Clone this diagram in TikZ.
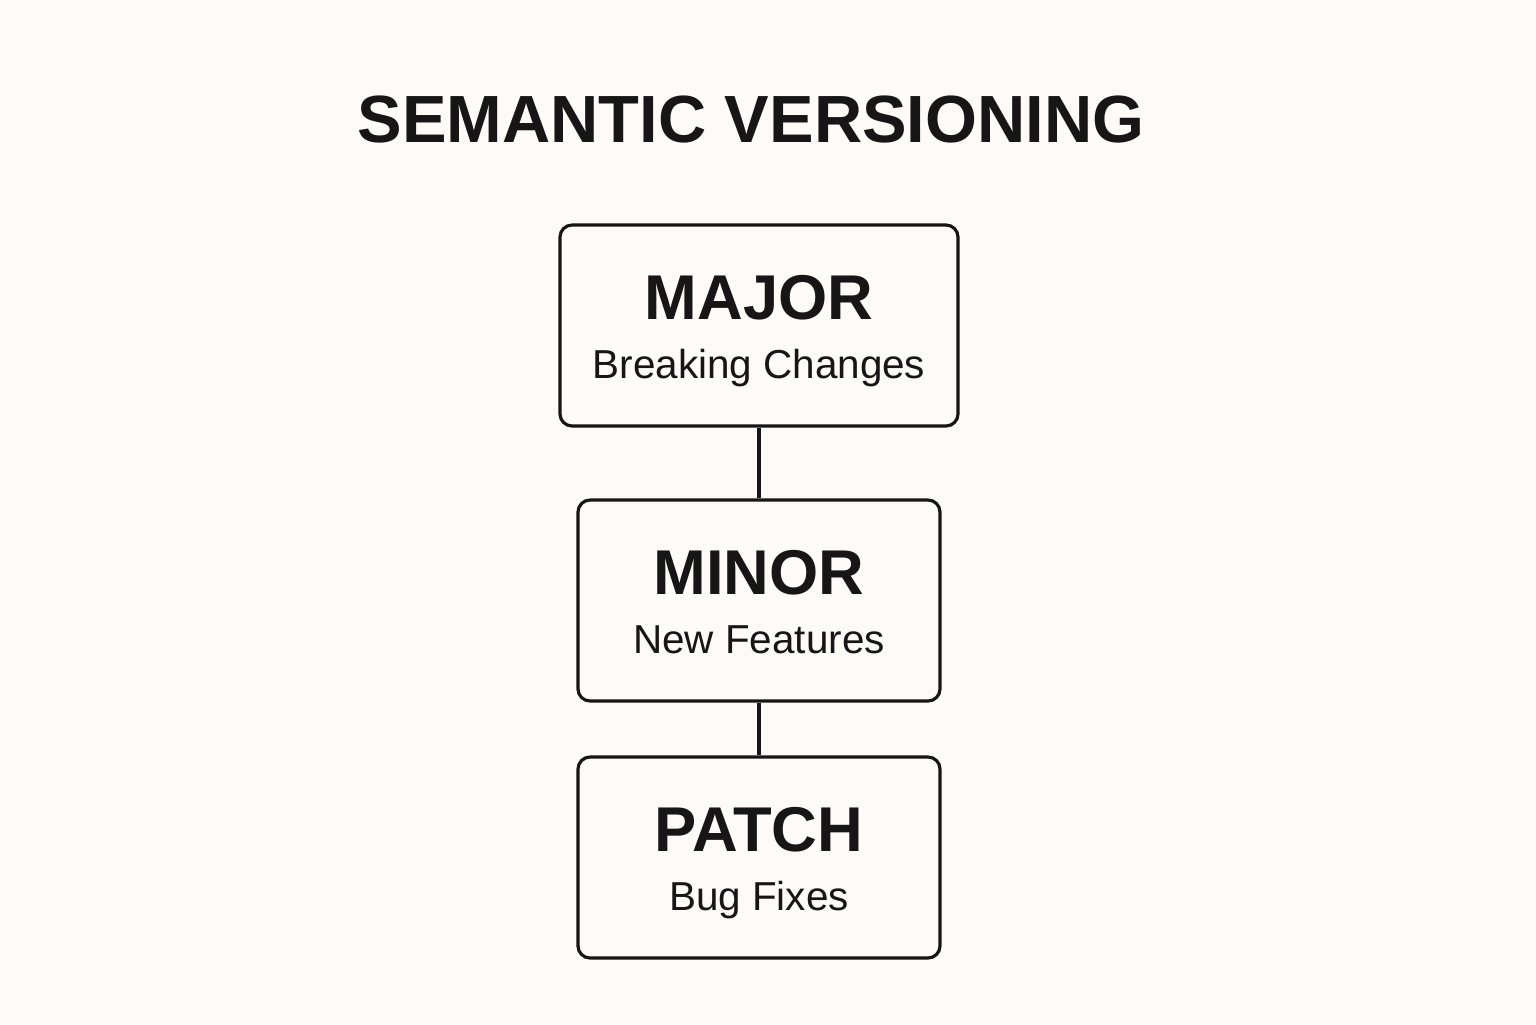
\documentclass[tikz,border=0pt]{standalone}
\usepackage{fontspec}
\setmainfont{Liberation Sans}
\usetikzlibrary{positioning}
\definecolor{paper}{HTML}{FCFBF8}
\definecolor{ink}{HTML}{161616}
\tikzset{
	verbox/.style={draw=ink, line width=0.9pt, rounded corners=0.12cm, minimum height=2.01cm, inner sep=0pt},
	vername/.style={anchor=base, text=ink, font=\fontsize{18}{20}\selectfont\bfseries, inner sep=0pt},
	verdesc/.style={anchor=base, text=ink, font=\fontsize{11.5}{13}\selectfont, inner sep=0pt},
	link/.style={draw=ink, line width=0.9pt}
}
\begin{document}
\begin{tikzpicture}
			%%%%% START %%%%%
			
			\fill[paper] (0, 0) rectangle (15.36, -10.24);
			\useasboundingbox (0, 0) rectangle (15.36, -10.24);
			
			\node[vername, font=\fontsize{19}{21}\selectfont\bfseries] (title) at (7.51, -1.42) {SEMANTIC VERSIONING};
			
			\node[verbox, minimum width=3.98cm] (major) at (7.59, -3.255) {};
			\node[vername] (majorname) at (7.59, -3.19) {MAJOR};
			\node[verdesc] (majordesc) at (7.59, -3.78) {Breaking Changes};
			
			\node[verbox, minimum width=3.62cm] (minor) at (7.59, -6.005) {};
			\node[vername] (minorname) at (7.59, -5.94) {MINOR};
			\node[verdesc] (minordesc) at (7.59, -6.53) {New Features};
			
			\node[verbox, minimum width=3.62cm] (patch) at (7.59, -8.575) {};
			\node[vername] (patchname) at (7.59, -8.51) {PATCH};
			\node[verdesc] (patchdesc) at (7.59, -9.10) {Bug Fixes};
			
			\draw[link] (major) -- (minor);
			\draw[link] (minor) -- (patch);
			
			%%%%% END %%%%%
		\end{tikzpicture}
\end{document}
